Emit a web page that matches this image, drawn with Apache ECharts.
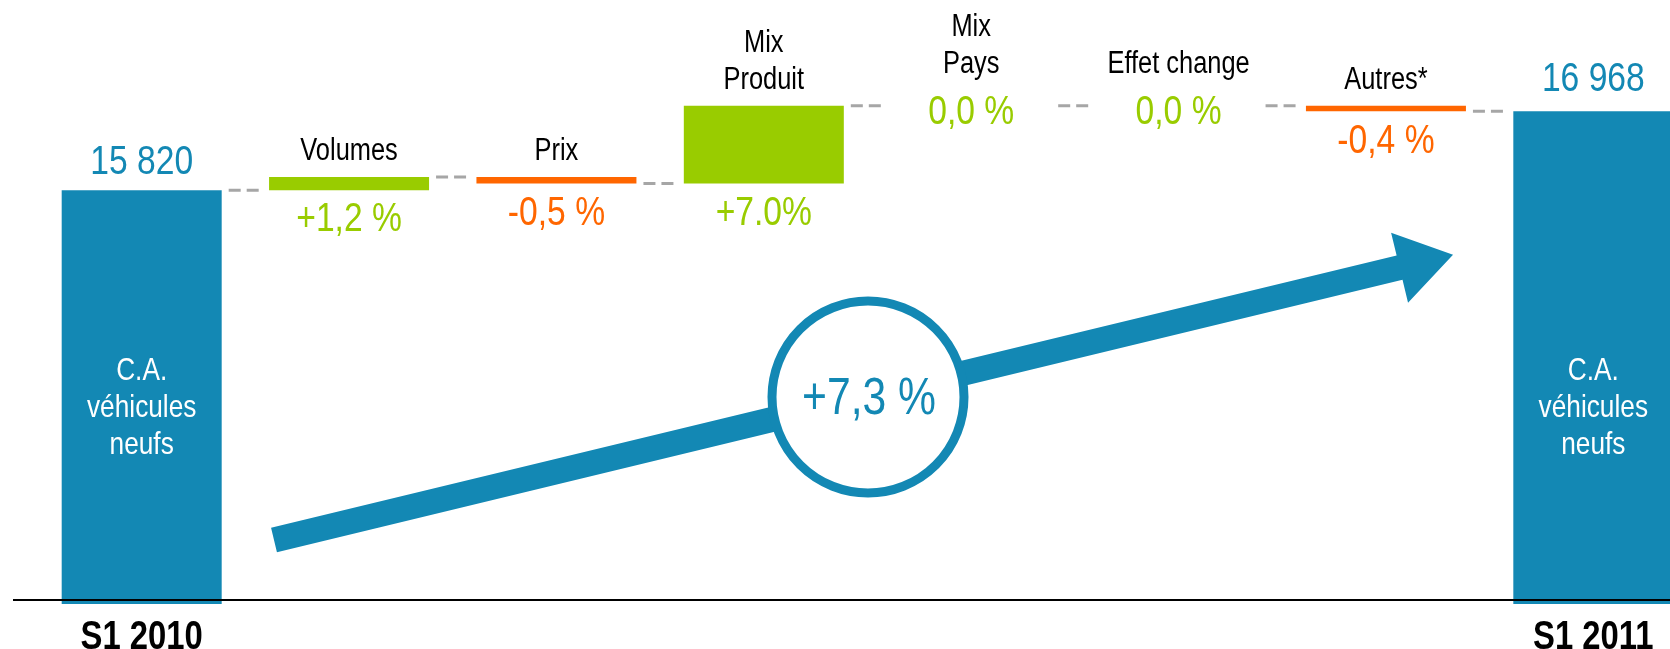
<!DOCTYPE html>
<html lang="fr">
<head>
<meta charset="UTF-8">
<title>C.A. véhicules neufs S1 2010 - S1 2011</title>
<script src="https://cdn.jsdelivr.net/npm/echarts@6.0.0/dist/echarts.min.js"></script>
<style>
    html, body { margin: 0; padding: 0; background: #fff; }
    #chart { width: 1670px; height: 649px; }
</style>
</head>
<body>
<div id="chart"></div>
<script>
// axis labels (only the two totals carry one)
var axisLabels = ['S1 2010', '', '', '', '', '', '', 'S1 2011'];
// names written over / inside each bar
var names = ['C.A.\nvéhicules\nneufs', 'Volumes', 'Prix', 'Mix\nProduit', 'Mix\nPays', 'Effet change', 'Autres*', 'C.A.\nvéhicules\nneufs'];
// texts printed next to each bar
var valueTexts = ['15 820', '+1,2 %', '-0,5 %', '+7.0%', '0,0 %', '0,0 %', '-0,4 %', '16 968'];
// totals
var startTotal = 15820;
var endTotal = 16968;
// variations between the two totals
var deltas = [190, -95, 1133, 0, 0, -80];
var totalGrowth = '+7,3 %';

var BLUE = '#1388b4', GREEN = '#99cc00', ORANGE = '#ff6600', GREY = '#a6a6a6';
// narrow look : Liberation Sans squeezed like Arial Narrow
var FONT = '"Liberation Sans", Arial, sans-serif';
var NARROW = 0.82;
var BAR_W = 160;
var Y_MIN = 9800, Y_MAX = 17800;

// waterfall : transparent base + visible part
var assist = [0], visible = [{value: startTotal, itemStyle: {color: BLUE}}];
var tops = [startTotal], bottoms = [null], levels = [startTotal];
var run = startTotal;
deltas.forEach(function (d) {
    var before = run;
    run += d;
    tops.push(Math.max(before, run));
    bottoms.push(Math.min(before, run));
    levels.push(run);
    if (d === 0) {
        assist.push(0);
        visible.push('-');
    } else {
        assist.push(Math.min(before, run));
        visible.push({value: Math.abs(d), itemStyle: {color: d > 0 ? GREEN : ORANGE}});
    }
});
assist.push(0);
visible.push({value: endTotal, itemStyle: {color: BLUE}});
tops.push(endTotal); bottoms.push(null); levels.push(endTotal);

function txt(x, y, text, color, size, vAlign, bold) {
    return {
        type: 'text', x: x, y: y, scaleX: NARROW,
        style: {
            text: text, fill: color, fontSize: size, fontFamily: FONT,
            fontWeight: bold ? 'bold' : 'normal',
            align: 'center', verticalAlign: vAlign, lineHeight: 37
        }
    };
}

// arrow (decoration)
var tail = [274, 540], dir = [0.972, -0.2352], nrm = [0.2352, 0.972];
var L = 1213, headL = 55, headW = 36, shaftW = 12.5;
var local = [[0, -shaftW], [L - headL, -shaftW], [L - headL, -headW], [L, 0],
             [L - headL, headW], [L - headL, shaftW], [0, shaftW]];
var arrowPts = local.map(function (p) {
    return [tail[0] + p[0] * dir[0] + p[1] * nrm[0], tail[1] + p[0] * dir[1] + p[1] * nrm[1]];
});

var chart = echarts.init(document.getElementById('chart'));
chart.setOption({
    animation: false,
    grid: {left: 38, width: 1659, top: 54, bottom: 45, outerBoundsMode: 'none', containLabel: false},
    xAxis: {
        type: 'category',
        data: axisLabels,
        axisLine: {show: false},
        axisTick: {show: false},
        axisLabel: {show: false}
    },
    yAxis: {type: 'value', min: Y_MIN, max: Y_MAX, show: false, splitLine: {show: false}},
    series: [
        {
            type: 'bar', stack: 'w', barWidth: BAR_W, data: assist,
            itemStyle: {color: 'transparent'}, silent: true
        },
        {
            type: 'bar', stack: 'w', barWidth: BAR_W, data: visible
        },
        {
            type: 'custom',
            clip: false,
            z: 5,
            data: levels.map(function (v, i) { return [i, v]; }),
            encode: {x: 0, y: 1},
            renderItem: function (params, api) {
                var i = params.dataIndex;
                var x = api.coord([i, tops[i]])[0];
                var yTop = api.coord([i, tops[i]])[1];
                var yLevel = api.coord([i, levels[i]])[1];
                var yAxisMin = api.coord([i, Y_MIN])[1];
                var kids = [];
                if (i === 0 || i === names.length - 1) {
                    kids.push(txt(x, yTop - (i === 0 ? 27 : 32), valueTexts[i], BLUE, 41, 'middle'));
                    kids.push(txt(x, yAxisMin - 196, names[i], '#fff', 32, 'middle'));
                    kids.push(txt(x, yAxisMin + 34, axisLabels[i], '#000', 40, 'middle', true));
                } else if (tops[i] === bottoms[i]) {
                    kids.push(txt(x, yLevel - 23, names[i], '#000', 31, 'bottom'));
                    kids.push(txt(x, yLevel + 7, valueTexts[i], GREEN, 41, 'middle'));
                } else {
                    var yBot = api.coord([i, bottoms[i]])[1];
                    var col = deltas[i - 1] > 0 ? GREEN : ORANGE;
                    kids.push(txt(x, yTop - 7, names[i], '#000', 31, 'bottom'));
                    kids.push(txt(x, yBot + 30, valueTexts[i], col, 41, 'middle'));
                }
                // dashed connector to the next bar
                if (i < names.length - 1) {
                    var x1 = x + BAR_W / 2 + 7;
                    kids.push({
                        type: 'line',
                        shape: {x1: x1, y1: yLevel, x2: x1 + 30, y2: yLevel},
                        style: {stroke: GREY, lineWidth: 3, lineDash: [12, 6]}
                    });
                }
                return {type: 'group', children: kids};
            }
        }
    ],
    graphic: [
        {
            type: 'line', z: 10,
            shape: {x1: 13, y1: 600, x2: 1670, y2: 600},
            style: {stroke: '#000', lineWidth: 2}
        },
        {
            type: 'polygon', z: 10,
            shape: {points: arrowPts},
            style: {fill: BLUE}
        },
        {
            type: 'circle', z: 11,
            shape: {cx: 868, cy: 397, r: 96},
            style: {fill: '#fff', stroke: BLUE, lineWidth: 9}
        },
        {
            type: 'text', z: 12, x: 869, y: 400, scaleX: NARROW,
            style: {
                text: totalGrowth, fill: BLUE, fontSize: 52, fontFamily: FONT,
                align: 'center', verticalAlign: 'middle'
            }
        }
    ]
});
</script>
</body>
</html>
